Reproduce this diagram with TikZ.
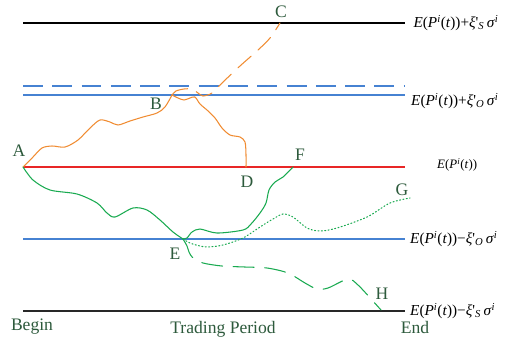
\documentclass[tikz,border=0pt]{standalone}
\usepackage{fontspec}
\setmainfont{Liberation Serif}
\usepackage{tikz}
\usetikzlibrary{positioning}
\definecolor{labelgreen}{RGB}{45,90,60}
\definecolor{pathorange}{RGB}{240,140,50}
\definecolor{pathgreen}{RGB}{25,170,80}
\definecolor{bandblue}{RGB}{70,130,210}
\definecolor{meanred}{RGB}{232,38,38}
\definecolor{stopblack}{RGB}{40,40,40}
\newcommand{\EPi}{\textit{E}(\textit{P}\textsuperscript{\textit{i}}(\textit{t}))}
\newcommand{\xisig}[1]{\textit{ξ}\textquotesingle\textsubscript{\textit{#1}}\,\textit{σ}\textsuperscript{\textit{i}}}
\tikzset{
level_line/.style={line width=1.1pt},
price_path/.style={line width=0.9pt, line cap=round},
long_dash/.style={dash pattern=on 17pt off 8pt},
point_label/.style={text=labelgreen, font=\fontsize{15}{17}\selectfont, inner sep=0pt},
band_label/.style={font=\fontsize{13}{15}\selectfont, inner sep=0pt}
}

\begin{document}
\begin{tikzpicture}[x=0.03cm, y=-0.03cm]
    \useasboundingbox (0,0) rectangle (513,351);
    % level lines
    \coordinate (stop_up_l) at (23,23);   \coordinate (stop_up_r) at (405,23);
    \coordinate (open_dash_l) at (23,86); \coordinate (open_dash_r) at (405,86);
    \coordinate (open_up_l) at (23,95);   \coordinate (open_up_r) at (405,95);
    \coordinate (mean_l) at (23,167);     \coordinate (mean_r) at (405,167);
    \coordinate (open_dn_l) at (23,239);  \coordinate (open_dn_r) at (405,239);
    \coordinate (stop_dn_l) at (23,311);  \coordinate (stop_dn_r) at (405,311);
    \draw[level_line, black] (stop_up_l) -- (stop_up_r);
    \draw[level_line, bandblue, long_dash] (open_dash_l) -- (open_dash_r);
    \draw[level_line, bandblue] (open_up_l) -- (open_up_r);
    \draw[level_line, meanred] (mean_l) -- (mean_r);
    \draw[level_line, bandblue] (open_dn_l) -- (open_dn_r);
    \draw[level_line, stopblack] (stop_dn_l) -- (stop_dn_r);

    % band labels
    \node[band_label, anchor=west] (lab_stop_up) [right=0.25cm of stop_up_r] {\EPi+\xisig{S}};
    \node[band_label, anchor=west] (lab_open_up) at (411,101) {\EPi+\xisig{O}};
    \node[band_label, anchor=west, font=\fontsize{11}{13}\selectfont] (lab_mean) at (437,165) {\EPi};
    \node[band_label, anchor=west] (lab_open_dn) [right=0.15cm of open_dn_r] {\EPi−\xisig{O}};
    \node[band_label, anchor=west] (lab_stop_dn) [right=0.15cm of stop_dn_r] {\EPi−\xisig{S}};

    % points
    \coordinate (A) at (23,167);
    \coordinate (B) at (172,95);
    \coordinate (C) at (280,23);
    \coordinate (D) at (246,167);
    \coordinate (E) at (183,239);
    \coordinate (F) at (293,167);
    \coordinate (G) at (410,198);
    \coordinate (H) at (381,310);
    \node[point_label] (lab_A) at (19,151) {A};
    \node[point_label] (lab_B) at (156,104) {B};
    \node[point_label] (lab_C) at (281,12) {C};
    \node[point_label] (lab_D) at (247,182) {D};
    \node[point_label] (lab_E) at (175,254) {E};
    \node[point_label] (lab_F) at (300,155) {F};
    \node[point_label] (lab_G) at (402,190) {G};
    \node[point_label] (lab_H) at (382,294) {H};

    % orange paths
    \draw[price_path, pathorange] plot[smooth] coordinates {(A) (33,157) (42,148) (52,146) (65,147) (78,140) (90,128) (100,120) (110,122) (118,125) (130,121) (143,117) (157,113) (165,107) (B)};
    \draw[price_path, pathorange] plot[smooth] coordinates {(B) (178,98) (184,100) (190,98) (195,97) (200,104) (207,110) (215,118) (222,128) (230,135) (240,137) (245,142) (246,155) (D)};
    \draw[price_path, pathorange, dash pattern=on 15pt off 8pt] plot[smooth] coordinates {(B) (176,91) (184,89) (192,89) (198,93) (203,96) (212,93) (222,83) (240,66) (258,50) (270,38) (C)};

    % green paths
    \draw[price_path, pathgreen] plot[smooth] coordinates {(A) (33,180) (50,190) (77,194) (97,203) (107,213) (115,217) (133,208) (147,210) (160,220) (173,232) (E)};
    \draw[price_path, pathgreen] plot[smooth] coordinates {(E) (187,238) (192,232) (200,229) (217,233) (243,230) (251,224) (260,213) (266,203) (269,190) (275,182) (283,177) (F)};
    \draw[price_path, pathgreen, dotted] plot[smooth] coordinates {(E) (190,243) (200,246) (208,247) (223,245) (243,238) (260,227) (273,219) (283,214) (293,217) (307,228) (320,231) (337,228) (367,217) (390,203) (G)};
    \draw[price_path, pathgreen, dash pattern=on 18pt off 9pt] plot[smooth] coordinates {(E) (187,246) (189,252) (193,258) (203,263) (222,266) (245,267) (267,268) (288,273) (305,283) (317,289) (328,288) (348,279) (358,285) (372,300) (H)};

    % time axis labels
    \node[point_label] (begin) at (32,327) {Begin};
    \node[point_label] (period) at (223,329) {Trading Period};
    \node[point_label] (end) at (415,327) {End};
\end{tikzpicture}
\end{document}
